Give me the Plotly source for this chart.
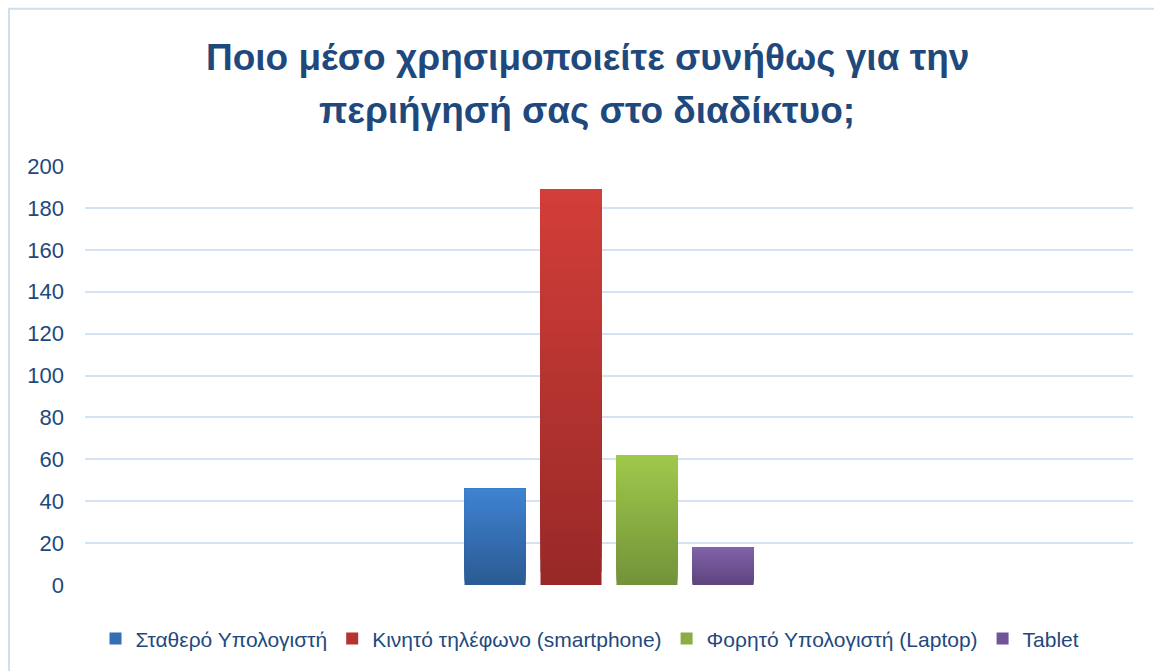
import plotly.graph_objects as go

# Survey answers: device used most often to browse the internet
devices = ["Σταθερό Υπολογιστή", "Κινητό τηλέφωνο (smartphone)",
           "Φορητό Υπολογιστή (Laptop)", "Tablet"]
counts = [46, 189, 62, 18]
y_ticks = [0, 20, 40, 60, 80, 100, 120, 140, 160, 180, 200]
title_lines = ["Ποιο μέσο χρησιμοποιείτε συνήθως για την",
               "περιήγησή σας στο διαδίκτυο;"]

# top / bottom colours of each bar's vertical gradient
top_colors = ["#3f82d0", "#d23e39", "#9ec84a", "#8262aa"]
bottom_colors = ["#2b5b94", "#982927", "#74933a", "#5d457e"]

DARK_BLUE = "#1f497d"
GRID = "#d5e2f3"
N_STEPS = 30


def hex_to_rgb(h):
    h = h.lstrip("#")
    return tuple(int(h[i:i + 2], 16) for i in (0, 2, 4))


def mix(c0, c1, t):
    a, b = hex_to_rgb(c0), hex_to_rgb(c1)
    return "rgb({},{},{})".format(*[round(a[i] + (b[i] - a[i]) * t) for i in range(3)])


fig = go.Figure()
for i, (name, value) in enumerate(zip(devices, counts)):
    # each bar is painted as overlapping layers, each one starting a bit
    # higher and lighter, so the fill fades from dark (bottom) to light (top)
    for k in range(N_STEPS):
        base = value * k / N_STEPS
        fig.add_trace(go.Bar(
            x=[""], y=[value - base], base=[base],
            name=name,
            offsetgroup=str(i),
            legendgroup=str(i),
            showlegend=(k == N_STEPS // 2),
            marker=dict(color=mix(bottom_colors[i], top_colors[i], k / (N_STEPS - 1)),
                        line=dict(width=0)),
            hovertemplate=f"{name}: {value}<extra></extra>" if k == 0 else None,
            hoverinfo=None if k == 0 else "skip",
        ))

L, R, T, B = 85, 21, 166, 84
W, H = 1154, 671
pw, ph = W - L - R, H - T - B

shapes = [dict(
    type="rect", xref="paper", yref="paper",
    x0=(9 - L) / pw, x1=(W + 20 - L) / pw,
    y0=-(H + 20 - T - ph) / ph, y1=1 + (T - 8) / ph,
    line=dict(color="#cfdef1", width=2), fillcolor="rgba(0,0,0,0)", layer="below",
)]

annotations = []
for j, (line, ypix) in enumerate(zip(title_lines, [57, 110])):
    annotations.append(dict(
        text=f"<b>{line}</b>", xref="paper", yref="paper",
        x=(587 - L) / pw, y=1 + (T - ypix) / ph,
        xanchor="center", yanchor="middle", showarrow=False,
        font=dict(family="Liberation Sans", size=37, color=DARK_BLUE),
    ))

fig.update_layout(
    width=W, height=H,
    margin=dict(l=L, r=R, t=T, b=B),
    paper_bgcolor="white", plot_bgcolor="white",
    barmode="group", bargap=0.71, bargroupgap=0.197,
    showlegend=True,
    legend=dict(
        orientation="h", x=(590 - L) / pw, xanchor="center",
        y=(587 - 641) / ph, yanchor="middle",
        font=dict(family="Liberation Sans", size=21, color=DARK_BLUE),
        traceorder="normal", itemclick=False, itemdoubleclick=False,
        itemwidth=30,
    ),
    xaxis=dict(showticklabels=False, showgrid=False, zeroline=False,
               showline=False, fixedrange=True),
    yaxis=dict(range=[0, 200], tickvals=y_ticks, showgrid=True, gridcolor=GRID,
               gridwidth=2, zeroline=False, showline=False, ticks="",
               ticklen=0, ticklabelstandoff=20,
               tickfont=dict(family="Liberation Sans", size=22, color=DARK_BLUE),
               fixedrange=True),
    shapes=shapes,
    annotations=annotations,
)

fig.write_html("out.html")
